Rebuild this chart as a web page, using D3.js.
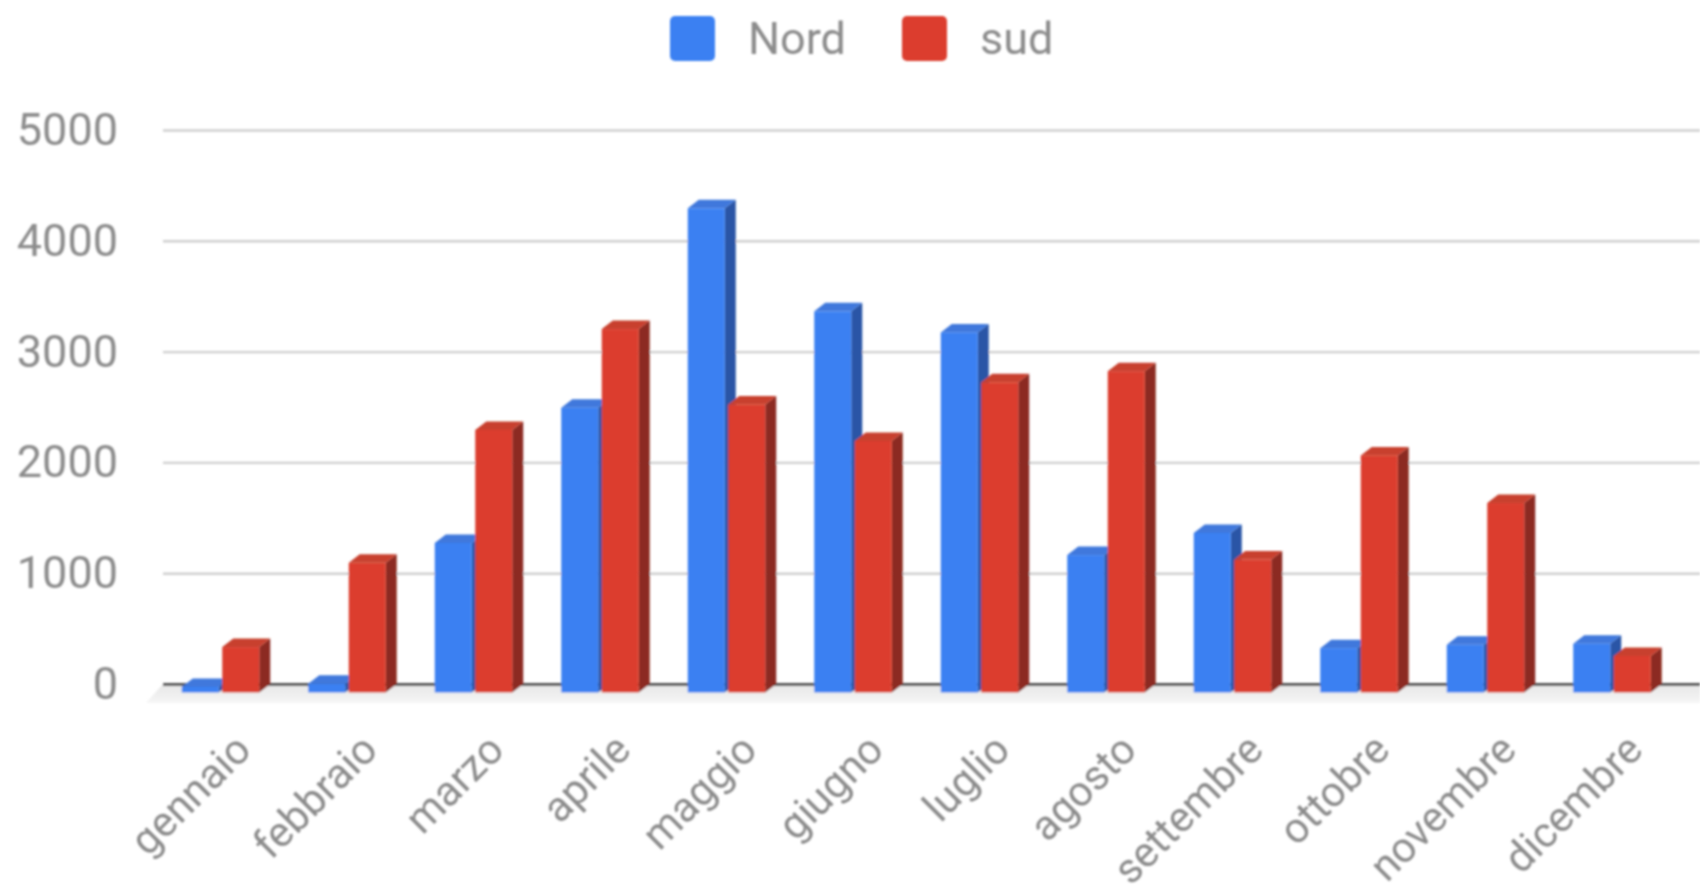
<!DOCTYPE html>
<html>
<head>
<meta charset="utf-8">
<script src="https://cdn.jsdelivr.net/npm/d3@7"></script>
<style>
  html, body { margin: 0; padding: 0; background: #fff; }
  svg { display: block; }
  text { font-family: Roboto, sans-serif; fill: #8c8c8c; }
</style>
</head>
<body>
<div id="chart"></div>
<script>
const months = ["gennaio", "febbraio", "marzo", "aprile", "maggio", "giugno", "luglio", "agosto", "settembre", "ottobre", "novembre", "dicembre"];
const nord = [50, 80, 1350, 2570, 4370, 3440, 3250, 1240, 1440, 400, 430, 440];
const sud = [410, 1170, 2370, 3280, 2600, 2270, 2800, 2900, 1200, 2140, 1710, 330];
const seriesNames = ["Nord", "sud"];
const yTicks = [0, 1000, 2000, 3000, 4000, 5000];

const width = 1700;
const height = 894;
const depthX = 11;
const depthY = 8.5;
const barWidth = 37;

const palette = {
  Nord: { front: "#3b80f2", top: "#3f78dc", side: "#2a55a6" },
  sud: { front: "#dc3e2e", top: "#c8402f", side: "#8c2c22" }
};

const svg = d3.select("#chart").append("svg")
  .attr("width", width)
  .attr("height", height);

const defs = svg.append("defs");
defs.append("filter").attr("id", "soft")
  .attr("filterUnits", "userSpaceOnUse")
  .attr("x", 0).attr("y", 0).attr("width", width).attr("height", height)
  .append("feGaussianBlur").attr("stdDeviation", 1.3);
const floorGrad = defs.append("linearGradient").attr("id", "floor")
  .attr("x1", 0).attr("y1", 0).attr("x2", 0).attr("y2", 1);
floorGrad.append("stop").attr("offset", 0).attr("stop-color", "#e6e6e6");
floorGrad.append("stop").attr("offset", 1).attr("stop-color", "#f6f6f6");

const root = svg.append("g").attr("filter", "url(#soft)");

const x = d3.scaleBand().domain(months).range([159, 1677]);
const xSeries = d3.scaleBand().domain(seriesNames).range([(x.bandwidth() - 81) / 2, (x.bandwidth() + 81) / 2]);
const y = d3.scaleLinear().domain([0, 5000]).range([684, 130]);

// floor under the bars
root.append("path")
  .attr("fill", "url(#floor)")
  .attr("d", `M163,${y(0)} L1700,${y(0)} L1700,${y(0) + 19} L146,${y(0) + 19} Z`);

// gridlines + y labels
const yAxis = root.append("g")
  .attr("transform", "translate(163,0)")
  .call(d3.axisLeft(y).tickValues(yTicks).tickFormat(d3.format("d")).tickSize(0).tickPadding(45));
yAxis.select(".domain").remove();
yAxis.selectAll("text").attr("font-size", 45).style("font-family", "Roboto, sans-serif").attr("fill", "#8c8c8c");
yAxis.selectAll(".tick").append("line")
  .attr("x1", 0).attr("x2", width - 163)
  .attr("stroke", d => d === 0 ? "#555" : "#cfcfcf")
  .attr("stroke-width", d => d === 0 ? 3 : 2.4);

// x labels
const xAxis = root.append("g")
  .attr("transform", `translate(0,${y(0)})`)
  .call(d3.axisBottom(x).tickSize(0));
xAxis.select(".domain").remove();
xAxis.selectAll("text")
  .attr("font-size", 42)
  .style("font-family", "Roboto, sans-serif")
  .attr("fill", "#8c8c8c")
  .attr("text-anchor", "end")
  .attr("dy", null)
  .attr("y", 0)
  .attr("transform", "translate(31,68) rotate(-45)");

const rows = months.map((m, i) => ({ month: m, Nord: nord[i], sud: sud[i] }));

function drawBar(g, name, value) {
  const c = palette[name];
  const x0 = xSeries(name);
  const x1 = x0 + barWidth;
  const yTop = y(value) + depthY;
  const yBase = y(0) + depthY;
  g.append("path").attr("fill", c.side)
    .attr("d", `M${x1},${yTop} L${x1 + depthX},${yTop - depthY} L${x1 + depthX},${yBase - depthY} L${x1},${yBase} Z`);
  g.append("path").attr("fill", c.top)
    .attr("d", `M${x0},${yTop} L${x0 + depthX},${yTop - depthY} L${x1 + depthX},${yTop - depthY} L${x1},${yTop} Z`);
  g.append("rect").attr("fill", c.front)
    .attr("x", x0).attr("y", yTop)
    .attr("width", barWidth).attr("height", yBase - yTop);
}

const groups = root.append("g").selectAll("g")
  .data(rows)
  .join("g")
  .attr("transform", d => `translate(${x(d.month)},0)`);

groups.each(function (d) {
  const g = d3.select(this);
  seriesNames.forEach(name => drawBar(g, name, d[name]));
});

// legend
const legendX = d3.scaleOrdinal().domain(seriesNames).range([670, 902]);
const legend = root.append("g").selectAll("g")
  .data(seriesNames)
  .join("g")
  .attr("transform", d => `translate(${legendX(d)},16)`);
legend.append("rect")
  .attr("width", 45).attr("height", 45).attr("rx", 5)
  .attr("fill", d => palette[d].front);
legend.append("text")
  .attr("x", 78).attr("y", 38)
  .attr("font-size", 45)
  .attr("fill", "#8c8c8c")
  .text(d => d);
</script>
</body>
</html>
